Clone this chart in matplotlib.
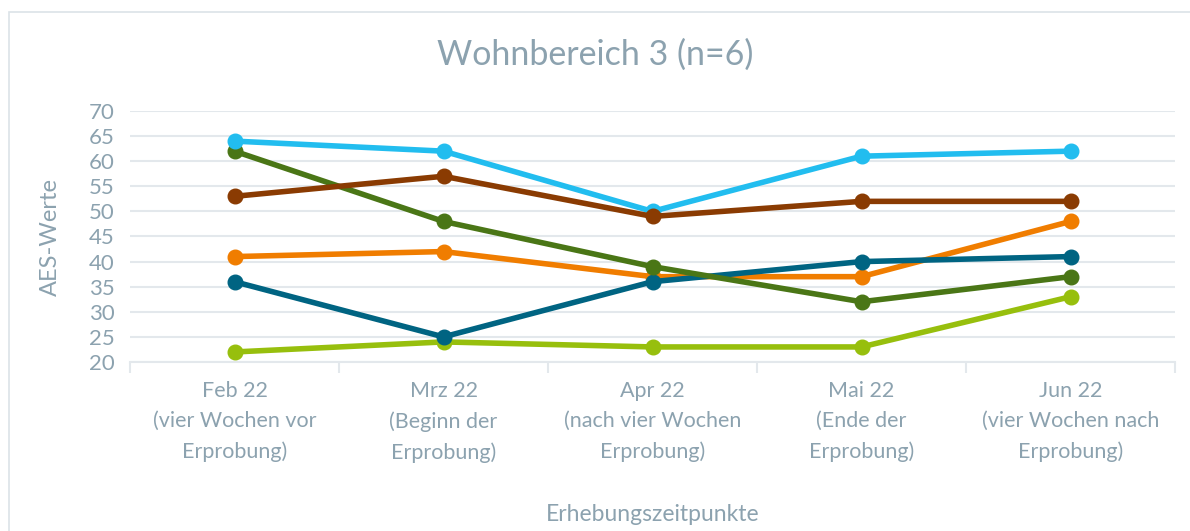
import matplotlib
matplotlib.use("Agg")
import matplotlib.pyplot as plt
from matplotlib.patches import Rectangle

categories = ["Feb 22\n(vier Wochen vor\nErprobung)",
              "Mrz 22\n(Beginn der\nErprobung)",
              "Apr 22\n(nach vier Wochen\nErprobung)",
              "Mai 22\n(Ende der\nErprobung)",
              "Jun 22\n(vier Wochen nach\nErprobung)"]

lime = [22, 24, 23, 23, 33]
orange = [41, 42, 37, 37, 48]
teal = [36, 25, 36, 40, 41]
dark_green = [62, 48, 39, 32, 37]
light_blue = [64, 62, 50, 61, 62]
brown = [53, 57, 49, 52, 52]

series = [
    (lime, "#97BF0D"),
    (orange, "#F07D00"),
    (teal, "#006482"),
    (dark_green, "#4A7616"),
    (light_blue, "#22BDEF"),
    (brown, "#8A3B02"),
]

text_color = "#8CA2AF"
grid_color = "#E3E8EC"

plt.rcParams['font.family'] = ['Lato', 'DejaVu Sans']

fig = plt.figure(figsize=(11.9, 5.31), dpi=100)
fig.patches.append(Rectangle((9/1190, -0.1), 1.2, 1 - 12/531 + 0.1,
                             transform=fig.transFigure, fill=False,
                             edgecolor="#DCE3E8", linewidth=1.2))

ax = fig.add_axes([130/1190, 1 - 362/531, (1175 - 130)/1190, (362 - 111)/531])
x = list(range(len(categories)))
for vals, col in series:
    ax.plot(x, vals, color=col, linewidth=4.0, marker='o', markersize=10.5,
            solid_capstyle='round', zorder=3)

ax.set_xlim(-0.5, len(categories) - 0.5)
ax.set_ylim(20, 70)
ax.set_yticks(range(20, 71, 5))
ax.yaxis.grid(True, color=grid_color, linewidth=1.5)
ax.set_axisbelow(True)
for s in ["top", "right", "left"]:
    ax.spines[s].set_visible(False)
ax.spines["bottom"].set_color(grid_color)
ax.spines["bottom"].set_linewidth(1.5)

ax.set_xticks(x)
ax.set_xticklabels(categories, fontsize=15.5, color=text_color, linespacing=1.6)
ax.set_xticks([i - 0.5 for i in range(len(categories) + 1)], minor=True)
ax.tick_params(axis='x', which='major', length=0, pad=14)
ax.tick_params(axis='x', which='minor', length=8, width=1.5, color=grid_color)
ax.tick_params(axis='y', length=0, labelsize=16, labelcolor=text_color, pad=11)

ax.set_ylabel("AES-Werte", fontsize=17, color=text_color, labelpad=20)
ax.set_xlabel("Erhebungszeitpunkte", fontsize=16.5, color=text_color, labelpad=30)
fig.text(0.5, 1 - 55/531, "Wohnbereich 3 (n=6)", ha='center', va='center',
         fontsize=24.5, color=text_color)

fig.savefig("out.png", dpi=100)
